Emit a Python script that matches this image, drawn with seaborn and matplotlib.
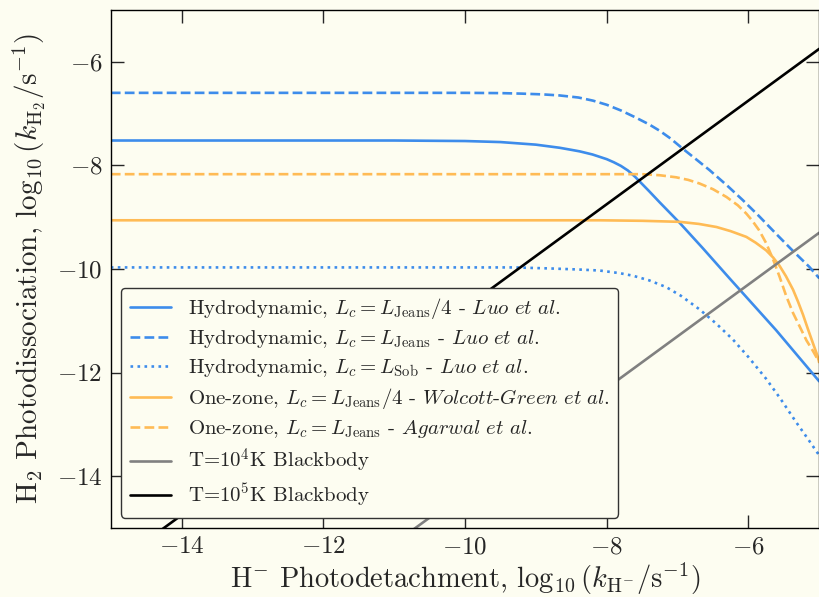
import matplotlib
matplotlib.use("Agg")
import matplotlib.pyplot as plt
import seaborn as sns
import pandas as pd

# ---- data ----
hydro_q_x = [-15, -11, -10, -9.5, -9.0, -8.665, -8.5, -8.38, -8.2, -8.0, -7.9, -7.8, -7.7, -7.6, -7.5, -7.4, -7.255, -6.97, -6.643, -6.267, -5.61, -5.0]
hydro_q_y = [-7.52, -7.52, -7.53, -7.55, -7.60, -7.66, -7.70, -7.73, -7.79, -7.88, -7.94, -8.01, -8.10, -8.22, -8.36, -8.50, -8.71, -9.11, -9.60, -10.18, -11.18, -12.17]

hydro_j_x = [-15, -10, -9.5, -9.2, -8.9, -8.665, -8.4, -8.195, -8.0, -7.8, -7.6, -7.4, -7.255, -7.1, -6.925, -6.75, -6.55, -6.3, -6.08, -5.85, -5.61, -5.38, -5.14, -5.0]
hydro_j_y = [-6.60, -6.60, -6.605, -6.615, -6.63, -6.65, -6.69, -6.75, -6.83, -6.94, -7.07, -7.21, -7.33, -7.48, -7.68, -7.87, -8.09, -8.39, -8.67, -8.98, -9.32, -9.64, -9.96, -10.18]

hydro_s_x = [-15, -9.3, -8.8, -8.4, -8.1, -7.82, -7.63, -7.4, -7.16, -6.95, -6.69, -6.45, -6.22, -6.0, -5.75, -5.55, -5.33, -5.15, -5.0]
hydro_s_y = [-9.97, -9.97, -9.99, -10.01, -10.03, -10.08, -10.13, -10.22, -10.35, -10.52, -10.78, -11.06, -11.36, -11.70, -12.12, -12.50, -12.95, -13.30, -13.60]

onez_q_x = [-15, -8.1, -7.5, -6.97, -6.7, -6.45, -6.25, -6.03, -5.9, -5.75, -5.65, -5.56, -5.47, -5.37, -5.3, -5.23, -5.16, -5.09, -5.04, -5.0]
onez_q_y = [-9.06, -9.06, -9.07, -9.09, -9.13, -9.19, -9.27, -9.38, -9.49, -9.64, -9.78, -9.94, -10.14, -10.40, -10.63, -10.88, -11.16, -11.43, -11.62, -11.80]

onez_j_x = [-15, -7.5, -7.255, -7.02, -6.85, -6.69, -6.5, -6.31, -6.15, -6.03, -5.95, -5.85, -5.75, -5.656, -5.56, -5.467, -5.37, -5.28, -5.18, -5.09, -5.0]
onez_j_y = [-8.17, -8.17, -8.19, -8.23, -8.28, -8.35, -8.46, -8.61, -8.77, -8.93, -9.06, -9.25, -9.50, -9.80, -10.15, -10.52, -10.85, -11.10, -11.38, -11.58, -11.80]

bb4_x = [-15, -5]
bb4_y = [-19.3, -9.3]
bb5_x = [-15, -5]
bb5_y = [-15.75, -5.75]

labels = [
    r"Hydrodynamic, $L_c = L_{\rm Jeans}/4$ - $\it{Luo\ et\ al.}$",
    r"Hydrodynamic, $L_c = L_{\rm Jeans}$ - $\it{Luo\ et\ al.}$",
    r"Hydrodynamic, $L_c = L_{\rm Sob}$ - $\it{Luo\ et\ al.}$",
    r"One-zone, $L_c = L_{\rm Jeans}/4$ - $\it{Wolcott}$-$\it{Green\ et\ al.}$",
    r"One-zone, $L_c = L_{\rm Jeans}$ - $\it{Agarwal\ et\ al.}$",
    r"T=10$^4$K Blackbody",
    r"T=10$^5$K Blackbody",
]
xticks = [-14, -12, -10, -8, -6]
yticks = [-14, -12, -10, -8, -6]

# ---- style ----
sns.set_style("ticks")
bg = "#fdfdf1"
plt.rcParams.update({
    "font.family": ["cmr10", "DejaVu Serif"],
    "mathtext.fontset": "cm",
    "axes.formatter.use_mathtext": True,
    "axes.unicode_minus": True,
    "figure.facecolor": bg,
    "axes.facecolor": bg,
    "savefig.facecolor": bg,
    "axes.edgecolor": "black",
    "axes.linewidth": 1.0,
})

blue = "#3d8ceb"
orange = "#ffbb55"
grey = "#808080"

fig = plt.figure(figsize=(8.2, 5.97), dpi=100)
ax = fig.add_axes([0.1351, 0.1156, 0.8640, 0.8677])

series = [
    (hydro_q_x, hydro_q_y, blue, "-"),
    (hydro_j_x, hydro_j_y, blue, "--"),
    (hydro_s_x, hydro_s_y, blue, ":"),
    (onez_q_x, onez_q_y, orange, "-"),
    (onez_j_x, onez_j_y, orange, "--"),
    (bb4_x, bb4_y, grey, "-"),
    (bb5_x, bb5_y, "black", "-"),
]
for (xs, ys, c, ls), lab in zip(series, labels):
    df = pd.DataFrame({"x": xs, "y": ys})
    sns.lineplot(data=df, x="x", y="y", ax=ax, color=c, linestyle=ls,
                 linewidth=1.9, label=lab, estimator=None, sort=False)

ax.set_xlim(-15, -5)
ax.set_ylim(-15, -5)
ax.set_xticks(xticks)
ax.set_yticks(yticks)
ax.tick_params(direction="in", length=9.5, width=1.0, top=True, right=True,
               labelsize=18, pad=6)
ax.set_xlabel(r"H$^{-}$ Photodetachment, $\log_{10}(k_{\rm H^{-}}/{\rm s}^{-1})$",
              fontsize=20.5, labelpad=2)
ax.set_ylabel(r"H$_2$ Photodissociation, $\log_{10}(k_{\rm H_2}/{\rm s}^{-1})$",
              fontsize=21, labelpad=6)

leg = ax.legend(loc="lower left", fontsize=15, frameon=True, fancybox=True,
                framealpha=1.0, facecolor=bg, edgecolor="#333333",
                handlelength=2.0, labelspacing=0.33, borderpad=0.4)
leg.get_frame().set_linewidth(1.0)

fig.savefig("out.png", dpi=100)
